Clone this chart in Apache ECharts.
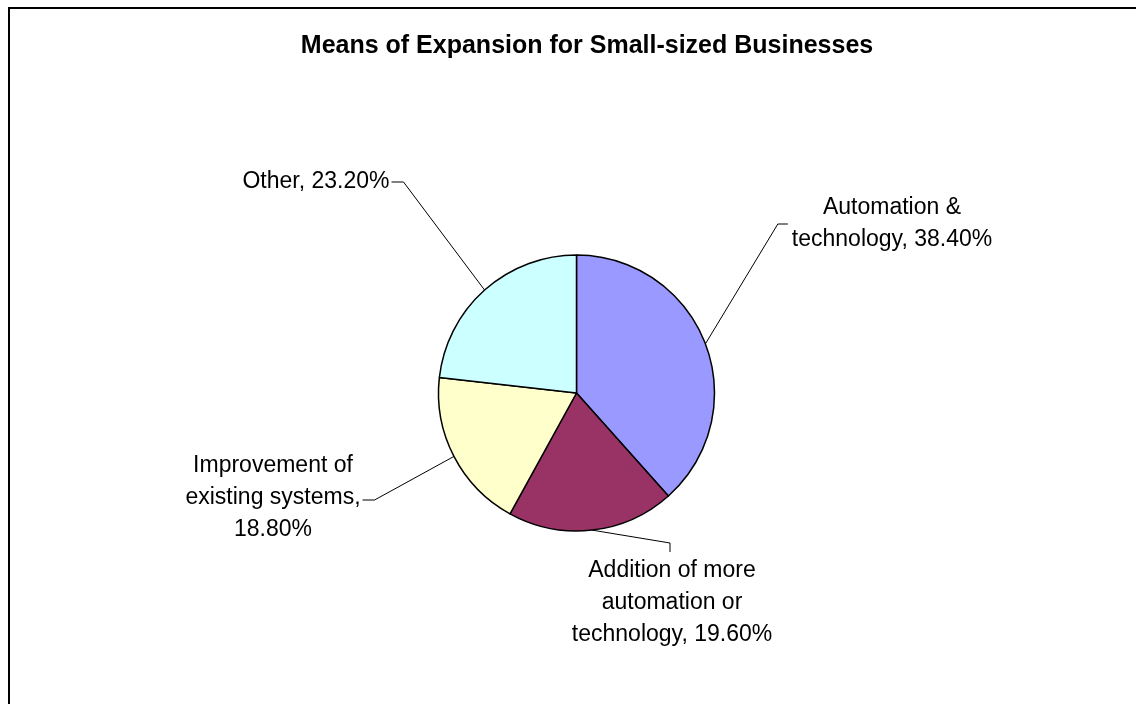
<!DOCTYPE html>
<html>
<head>
<meta charset="utf-8">
<title>Means of Expansion for Small-sized Businesses</title>
<script src="https://cdn.jsdelivr.net/npm/echarts@6/dist/echarts.min.js"></script>
<style>
  html, body { margin: 0; padding: 0; background: #ffffff; }
  #chart { width: 1136px; height: 704px; }
</style>
</head>
<body>
<div id="chart"></div>
<script>
// Survey shares (percent) for each means of expansion
const categories = [
  'Automation & technology',
  'Addition of more automation or technology',
  'Improvement of existing systems',
  'Other'
];
const shares = [38.4, 19.6, 18.8, 23.2];

// Label text with its line breaks; {v} is replaced by the formatted share
const labelTemplates = [
  'Automation &\ntechnology, {v}',
  'Addition of more\nautomation or\ntechnology, {v}',
  'Improvement of\nexisting systems,\n{v}',
  'Other, {v}'
];

// Slice fills
const sliceColors = ['#9999FF', '#993366', '#FFFFCC', '#CCFFFF'];

// Where each label block is centred, and on which side of its leader it sits
const labelCenters = [[892, 224], [672, 603], [273, 498], [316, 182]];
const labelSides = ['right', 'below', 'left', 'left'];

const FONT = '"Liberation Sans", Arial, Helvetica, sans-serif';

const chart = echarts.init(document.getElementById('chart'), null, { renderer: 'canvas' });

chart.setOption({
  backgroundColor: '#ffffff',
  animation: false,
  title: {
    text: 'Means of Expansion for Small-sized Businesses',
    left: 582,
    top: 29,
    textAlign: 'center',
    textStyle: { fontFamily: FONT, fontSize: 25, fontWeight: 'bold', color: '#000000' }
  },
  graphic: [{
    type: 'rect',
    shape: { x: 9, y: 8, width: 1300, height: 900 },
    style: { fill: 'none', stroke: '#000000', lineWidth: 2 },
    silent: true
  }],
  series: [{
    type: 'pie',
    center: [576.5, 393],
    radius: 138,
    startAngle: 90,
    clockwise: true,
    avoidLabelOverlap: false,
    data: categories.map((name, i) => ({
      name: name,
      value: shares[i],
      itemStyle: { color: sliceColors[i] }
    })),
    itemStyle: { borderColor: '#000000', borderWidth: 1.5 },
    label: {
      show: true,
      position: 'outside',
      alignTo: 'none',
      fontFamily: FONT,
      fontSize: 23,
      lineHeight: 32,
      color: '#000000',
      formatter: p => labelTemplates[p.dataIndex].replace('{v}', p.value.toFixed(2) + '%')
    },
    labelLine: {
      show: true,
      length: 10,
      length2: 10,
      smooth: false,
      lineStyle: { color: '#000000', width: 1 }
    },
    labelLayout: function (params) {
      const i = params.dataIndex;
      const c = labelCenters[i];
      const w = params.labelRect.width;
      const h = params.labelRect.height;
      const anchor = params.labelLinePoints ? params.labelLinePoints[0] : null;
      let end, elbow;
      switch (labelSides[i]) {
        case 'right':
          end = [c[0] - w / 2 - 4, c[1]];
          elbow = [end[0] - 10, end[1]];
          break;
        case 'left':
          end = [c[0] + w / 2 + 2, c[1] + (h > 40 ? 2 : 0)];
          elbow = [end[0] + 12, end[1]];
          break;
        default: // below
          end = [c[0] - 2, c[1] - h / 2 - 3];
          elbow = [end[0], end[1] - 9];
      }
      const out = { x: c[0], y: c[1], align: 'center', verticalAlign: 'middle' };
      if (anchor) out.labelLinePoints = [anchor, elbow, end];
      return out;
    }
  }]
});
</script>
</body>
</html>
